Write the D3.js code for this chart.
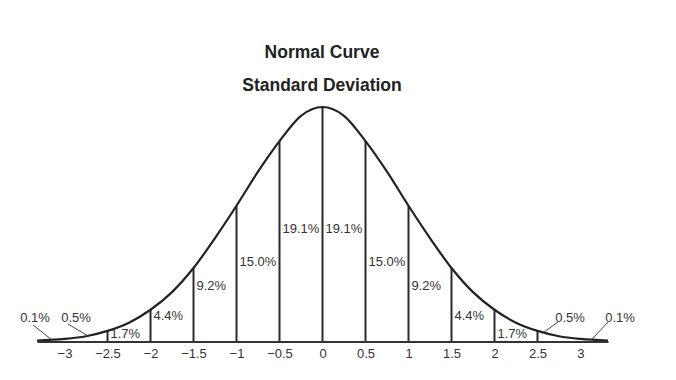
<!DOCTYPE html>
<html>
<head>
<meta charset="utf-8">
<script src="https://cdn.jsdelivr.net/npm/d3@7"></script>
<style>
  html, body { margin: 0; padding: 0; background: #fff; }
  svg { display: block; }
  text { font-family: "Liberation Sans", Arial, Helvetica, sans-serif; fill: #333; }
</style>
</head>
<body>
<svg id="chart" width="676" height="380"></svg>
<script>
// ---- data ----
const titleLines = ["Normal Curve", "Standard Deviation"];
const tickValues = [-3, -2.5, -2, -1.5, -1, -0.5, 0, 0.5, 1, 1.5, 2, 2.5, 3];
const tickLabels = ["\u22123", "\u22122.5", "\u22122", "\u22121.5", "\u22121", "\u22120.5", "0", "0.5", "1", "1.5", "2", "2.5", "3"];
// curve (x in standard deviations, height in density units)
const curveX = [-3.32, -3, -2.75, -2.5, -2.25, -2, -1.75, -1.5, -1.25, -1, -0.75, -0.5, -0.25, 0,
                0.25, 0.5, 0.75, 1, 1.25, 1.5, 1.75, 2, 2.25, 2.5, 2.75, 3, 3.32];
const curveY = [0.0016, 0.0044, 0.009, 0.018, 0.032, 0.054, 0.084, 0.125, 0.176, 0.231, 0.289, 0.341, 0.384, 0.399,
                0.384, 0.341, 0.289, 0.231, 0.176, 0.125, 0.084, 0.054, 0.032, 0.018, 0.009, 0.0044, 0.0016];
const dividers = [-2.5, -2, -1.5, -1, -0.5, 0, 0.5, 1, 1.5, 2, 2.5];
const bandLabels = ["1.7%", "4.4%", "9.2%", "15.0%", "19.1%", "19.1%", "15.0%", "9.2%", "4.4%", "1.7%"];
const tailLabels = ["0.1%", "0.5%", "0.5%", "0.1%"];

// ---- layout ----
const W = 676, H = 380;
const baseY = 341.5, peakY = 107;
const bandLabelRise = [8, 26, 56, 80, 113, 113, 80, 56, 26, 8]; // px above baseline (label centre)
const tailLayout = [
  { tx: 35,  ty: 317, x1: 33,  y1: 325, target: -3.15 },
  { tx: 76,  ty: 317, x1: 68,  y1: 324, target: -2.73 },
  { tx: 570, ty: 317, x1: 558, y1: 322, target: 2.57 },
  { tx: 620, ty: 317, x1: 608, y1: 322, target: 3.13 }
];

const svg = d3.select("#chart");
const x = d3.scaleLinear().domain([-3.32, 3.32]).range([37, 608]);
const y = d3.scaleLinear().domain([0, 0.399]).range([baseY, peakY]);

const pts = curveX.map((v, i) => [v, curveY[i]]);
const densityAt = v => {
  const i = curveX.findIndex(c => Math.abs(c - v) < 1e-9);
  if (i >= 0) return curveY[i];
  // for leader targets: use neighbouring read points
  const j = d3.bisectLeft(curveX, v);
  const x0 = curveX[j - 1], x1 = curveX[j];
  const t = (v - x0) / (x1 - x0);
  return curveY[j - 1] * (1 - t) + curveY[j] * t;
};

// title
svg.selectAll("text.title").data(titleLines).join("text")
  .attr("class", "title")
  .attr("x", 322).attr("y", (d, i) => 58 + i * 33)
  .attr("text-anchor", "middle")
  .style("font-size", "17.5px").style("font-weight", "bold").style("fill", "#222")
  .text(d => d);

// dividers
svg.selectAll("line.div").data(dividers).join("line")
  .attr("class", "div")
  .attr("x1", d => x(d)).attr("x2", d => x(d))
  .attr("y1", baseY).attr("y2", d => y(densityAt(d)))
  .attr("stroke", "#2a2a2a").attr("stroke-width", 2);

// curve
svg.append("path").datum(pts)
  .attr("d", d3.line().x(d => x(d[0])).y(d => y(d[1])).curve(d3.curveMonotoneX))
  .attr("fill", "none").attr("stroke", "#222").attr("stroke-width", 2.2);

// axis
const axis = d3.axisBottom(x).tickValues(tickValues)
  .tickFormat((d, i) => tickLabels[i]).tickSize(0).tickSizeOuter(0).tickPadding(7);
const gAxis = svg.append("g").attr("transform", `translate(0,${baseY})`).call(axis);
gAxis.select(".domain").attr("stroke", "#333").attr("stroke-width", 2.2);
gAxis.selectAll("text").style("font-size", "13px").style("fill", "#333")
  .style("font-family", "'Liberation Sans', Arial, sans-serif");

// band labels
svg.selectAll("text.band").data(bandLabels).join("text")
  .attr("class", "band")
  .attr("x", (d, i) => x(dividers[i]) + 3)
  .attr("y", (d, i) => baseY - bandLabelRise[i])
  .attr("dy", "0.36em")
  .style("font-size", "13px")
  .text(d => d);

// tail labels and leaders
svg.selectAll("line.leader").data(tailLabels).join("line")
  .attr("class", "leader")
  .attr("x1", (d, i) => tailLayout[i].x1).attr("y1", (d, i) => tailLayout[i].y1)
  .attr("x2", (d, i) => x(tailLayout[i].target))
  .attr("y2", (d, i) => y(densityAt(tailLayout[i].target)))
  .attr("stroke", "#444").attr("stroke-width", 1);
svg.selectAll("text.tail").data(tailLabels).join("text")
  .attr("class", "tail")
  .attr("x", (d, i) => tailLayout[i].tx).attr("y", (d, i) => tailLayout[i].ty)
  .attr("dy", "0.36em").attr("text-anchor", "middle")
  .style("font-size", "13px")
  .text(d => d);
</script>
</body>
</html>
